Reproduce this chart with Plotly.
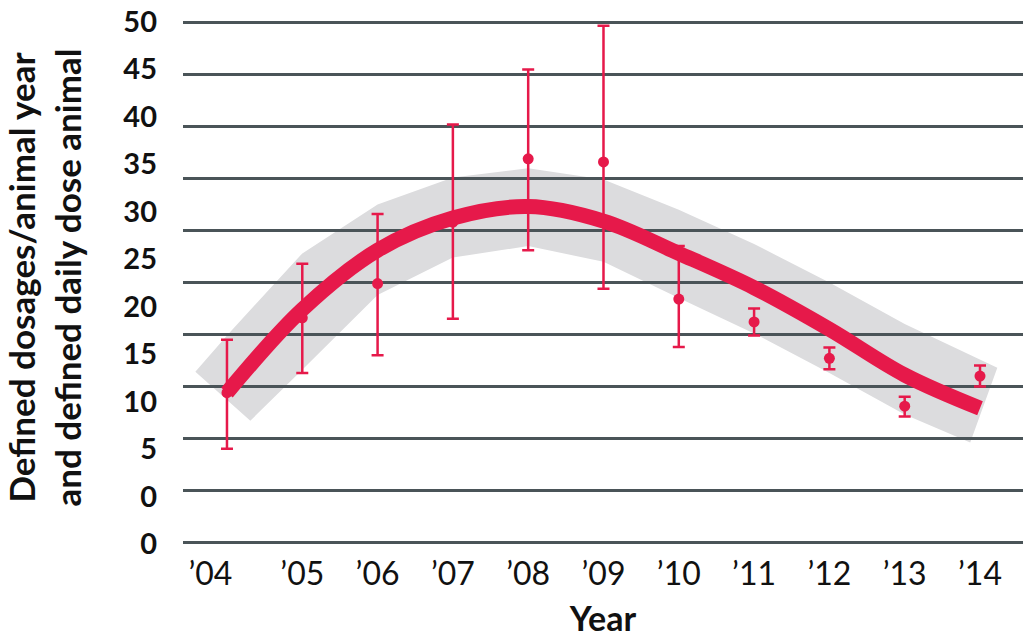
import plotly.graph_objects as go

# ---- data ----
years = [2004, 2005, 2006, 2007, 2008, 2009, 2010, 2011, 2012, 2013, 2014]
means = [14.4, 21.6, 24.9, 30.8, 36.9, 36.6, 23.4, 21.2, 17.7, 13.1, 16.0]
err_plus = [5.1, 5.2, 6.7, 9.4, 8.6, 13.1, 5.1, 1.3, 1.05, 0.9, 1.0]
err_minus = [5.4, 5.3, 6.9, 9.3, 8.8, 12.2, 4.6, 1.3, 1.05, 1.0, 1.0]
trend = [14.4, 22.4, 28.1, 31.2, 32.3, 30.9, 27.8, 24.5, 20.5, 16.1, 12.9]

band_upper_x = [2003.58, 2004, 2005, 2006, 2007, 2008, 2009, 2010, 2011, 2012, 2013, 2014.23]
band_upper_y = [16.4, 19.9, 27.8, 32.5, 35.1, 36.0, 34.9, 32.0, 28.7, 25.0, 21.0, 16.8]
band_lower_x = [2004.31, 2005, 2006, 2007, 2008, 2009, 2010, 2011, 2012, 2013, 2013.87]
band_lower_y = [11.7, 16.6, 23.8, 27.4, 28.5, 27.0, 23.5, 20.1, 16.3, 12.3, 9.6]

x_tick_pos = [2003.78, 2005, 2006, 2007, 2008, 2009, 2010, 2011, 2012, 2013, 2014]
x_tick_text = ["\u201904", "\u201905", "\u201906", "\u201907", "\u201908", "\u201909",
               "\u201910", "\u201911", "\u201912", "\u201913", "\u201914"]
y_label_pos = [50, 45, 40, 35, 30, 25, 20, 15, 10, 5, 0, -5]
y_label_text = ["50", "45", "40", "35", "30", "25", "20", "15", "10", "5", "0", "0"]
grid_vals = [0, 5, 10, 15, 20, 25, 30, 35, 40, 45, 50]

RED = "#e6194a"
GRID = "#4a5458"
BAND = "#dcdcde"
FONT = "Lato"

fig = go.Figure()

# confidence band as polygon in data coordinates (below gridlines)
pts = list(zip(band_upper_x, band_upper_y)) + list(zip(band_lower_x[::-1], band_lower_y[::-1]))
path = "M " + " L ".join(f"{x},{y}" for x, y in pts) + " Z"
fig.add_shape(type="path", path=path, xref="x", yref="y", fillcolor=BAND,
              line=dict(width=0), layer="below")

fig.add_trace(go.Scatter(
    x=years, y=means, mode="markers",
    marker=dict(size=11, color=RED),
    error_y=dict(type="data", symmetric=False, array=err_plus, arrayminus=err_minus,
                 color=RED, thickness=2.5, width=6),
    showlegend=False, hoverinfo="skip"))

fig.add_trace(go.Scatter(
    x=years, y=trend, mode="lines",
    line=dict(color=RED, width=15, shape="spline", smoothing=1.0),
    showlegend=False, hoverinfo="skip"))

# invisible trace to activate label axis
fig.add_trace(go.Scatter(x=[years[0]], y=[y_label_pos[0]], yaxis="y2", mode="markers",
                         marker=dict(opacity=0), showlegend=False, hoverinfo="skip"))

fig.update_layout(
    width=1023, height=641,
    margin=dict(l=183, r=0, t=5, b=91),
    paper_bgcolor="white", plot_bgcolor="white",
    xaxis=dict(range=[2003.416, 2014.571], tickvals=x_tick_pos, ticktext=x_tick_text,
               showgrid=False, zeroline=False, showline=False, ticks="",
               ticklabelstandoff=2,
               tickfont=dict(family=FONT, size=32, color="#111"),
               title=dict(text="Year", font=dict(family=FONT, size=34, color="#111", weight="bold"),
                          standoff=16)),
    yaxis=dict(range=[-0.741, 51.70], tickvals=grid_vals, showticklabels=False,
               showgrid=True, gridcolor=GRID, gridwidth=3, zeroline=False, showline=False,
               ticks=""),
    yaxis2=dict(range=[-5.63, 51.76], overlaying="y", side="left", anchor="x",
                tickvals=y_label_pos, ticktext=y_label_text, showgrid=False,
                zeroline=False, showline=False, ticks="", ticklabelstandoff=25,
                tickfont=dict(family=FONT, size=29, color="#111", weight="bold"),
                title=dict(text="Defined dosages/animal year<br>and defined daily dose animal",
                           font=dict(family=FONT, size=35, color="#111", weight="bold"),
                           standoff=36)),
)

fig.write_html("out.html")
